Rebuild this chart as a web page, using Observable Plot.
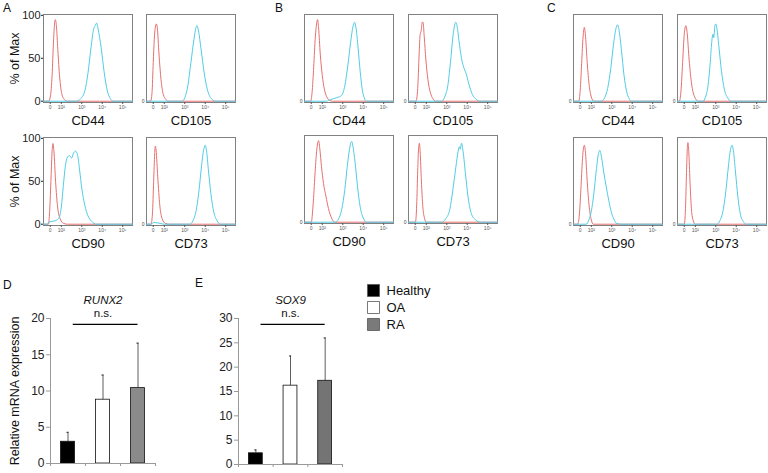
<!DOCTYPE html>
<html><head><meta charset="utf-8">
<script src="https://cdn.jsdelivr.net/npm/d3@7"></script>
<script src="https://cdn.jsdelivr.net/npm/@observablehq/plot@0.6"></script>
<style>
body{margin:0;background:#fff;}
#fig{position:relative;width:768px;height:473px;overflow:hidden;font-family:"Liberation Sans",Arial,sans-serif;color:#111;}
.letter{position:absolute;font-size:12px;line-height:12px;}
</style></head><body><div id="fig"></div>
<script>
// ---------- data ----------
const markers = ["CD44", "CD105", "CD90", "CD73"];
const donors = ["A", "B", "C"];
const xTickPos = [1.46, 2, 3, 4, 5];
const xTickLabels = ["0", "10²", "10³", "10⁴", "10⁵"];
const yTicksMax = [0, 50, 100];

// histogram curves: [position on logicle axis (decades), % of max]
const A_CD44_iso = [[1.13,0],[1.38,0],[1.47,6],[1.55,30],[1.62,70],[1.67,90],[1.71,95],[1.76,88],[1.83,60],[1.92,28],[2.02,9],[2.15,2],[2.27,0],[5.48,0]];
const A_CD44_ab  = [[1.13,0],[2.76,0],[2.95,3],[3.15,12],[3.3,32],[3.45,62],[3.58,84],[3.66,88],[3.73,91],[3.8,84],[3.95,62],[4.1,33],[4.25,12],[4.4,3],[4.55,0],[5.48,0]];
const A_CD105_iso = [[1.13,0],[1.33,0],[1.4,10],[1.46,45],[1.51,72],[1.56,86],[1.61,90],[1.66,85],[1.74,55],[1.84,25],[1.95,8],[2.08,2],[2.2,0],[5.48,0]];
const A_CD105_ab  = [[1.13,0],[2.87,0],[3.0,4],[3.15,18],[3.3,45],[3.45,72],[3.55,86],[3.6,88],[3.67,82],[3.8,60],[3.95,33],[4.1,14],[4.3,3],[4.53,0],[5.48,0]];
const A_CD90_iso = [[1.13,0],[1.37,0],[1.43,15],[1.5,55],[1.55,85],[1.59,94],[1.64,85],[1.72,50],[1.82,20],[1.95,6],[2.11,1],[2.3,0],[5.48,0]];
const A_CD90_ab  = [[1.13,0],[1.3,0],[1.45,3],[1.7,4],[1.9,8],[2.0,20],[2.1,45],[2.2,68],[2.3,78],[2.4,80],[2.5,77],[2.6,83],[2.7,85],[2.8,80],[2.9,62],[3.0,42],[3.15,22],[3.3,10],[3.5,3],[3.7,0],[5.48,0]];
const A_CD73_iso = [[1.13,0],[1.35,0],[1.42,12],[1.48,50],[1.53,82],[1.56,91],[1.6,86],[1.68,55],[1.78,22],[1.9,6],[2.05,1],[2.24,0],[5.48,0]];
const A_CD73_ab  = [[1.13,0],[1.35,0],[1.5,2],[1.8,1],[2.0,0],[3.24,0],[3.4,4],[3.55,15],[3.7,40],[3.82,68],[3.92,86],[4.0,92],[4.06,86],[4.16,62],[4.28,35],[4.42,14],[4.58,4],[4.74,0],[5.48,0]];

const B_CD44_iso = [[1.13,0],[1.43,0],[1.5,10],[1.58,40],[1.66,75],[1.72,90],[1.77,95],[1.82,85],[1.9,55],[2.0,30],[2.1,14],[2.22,5],[2.35,1],[2.5,0],[5.48,0]];
const B_CD44_ab  = [[1.13,0],[2.2,0],[2.4,2],[2.7,4],[2.95,7],[3.1,18],[3.25,42],[3.38,68],[3.5,87],[3.58,92],[3.65,85],[3.75,62],[3.85,35],[3.95,14],[4.05,4],[4.15,0],[5.48,0]];
const B_CD105_iso = [[1.13,0],[1.5,0],[1.58,15],[1.65,55],[1.7,78],[1.75,82],[1.8,92],[1.84,92],[1.9,75],[1.98,48],[2.08,25],[2.2,10],[2.32,3],[2.45,0],[5.48,0]];
const B_CD105_ab  = [[1.13,0],[2.75,0],[2.9,5],[3.05,18],[3.18,45],[3.3,75],[3.4,90],[3.44,92],[3.5,88],[3.6,70],[3.72,50],[3.85,38],[3.95,32],[4.08,20],[4.25,8],[4.45,2],[4.65,0],[5.48,0]];
const B_CD90_iso = [[1.13,0],[1.46,0],[1.55,20],[1.64,55],[1.72,82],[1.78,93],[1.82,95],[1.88,85],[1.96,65],[2.06,45],[2.18,30],[2.3,16],[2.45,5],[2.6,0],[5.48,0]];
const B_CD90_ab  = [[1.13,0],[2.64,0],[2.8,4],[2.95,15],[3.1,38],[3.22,65],[3.33,85],[3.4,93],[3.44,94],[3.5,88],[3.6,70],[3.72,42],[3.85,18],[4.0,5],[4.16,0],[5.48,0]];
const B_CD73_iso = [[1.13,0],[1.47,0],[1.53,20],[1.58,60],[1.62,85],[1.66,92],[1.7,82],[1.76,48],[1.83,18],[1.92,4],[2.0,0],[5.48,0]];
const B_CD73_ab  = [[1.13,0],[2.75,0],[2.95,4],[3.15,15],[3.3,38],[3.45,65],[3.55,82],[3.62,88],[3.66,85],[3.72,92],[3.8,82],[3.92,55],[4.05,28],[4.2,10],[4.4,3],[4.65,0],[5.48,0]];

const C_CD44_iso = [[1.13,0],[1.38,0],[1.45,10],[1.52,40],[1.59,72],[1.66,86],[1.72,75],[1.8,45],[1.9,18],[2.0,5],[2.12,0],[5.48,0]];
const C_CD44_ab  = [[1.13,0],[2.5,0],[2.65,4],[2.8,15],[2.95,38],[3.08,65],[3.2,84],[3.29,89],[3.36,82],[3.48,58],[3.6,30],[3.72,12],[3.85,3],[3.95,0],[5.48,0]];
const C_CD105_iso = [[1.13,0],[1.22,0],[1.3,12],[1.38,45],[1.46,78],[1.54,88],[1.6,80],[1.7,48],[1.82,20],[1.95,6],[2.15,0],[5.48,0]];
const C_CD105_ab  = [[1.13,0],[2.38,0],[2.5,5],[2.62,18],[2.72,42],[2.8,68],[2.86,78],[2.9,74],[2.96,88],[3.0,90],[3.06,84],[3.16,62],[3.28,35],[3.42,14],[3.58,4],[3.75,0],[5.48,0]];
const C_CD90_iso = [[1.13,0],[1.33,0],[1.42,12],[1.5,45],[1.58,80],[1.66,92],[1.72,82],[1.8,50],[1.9,20],[2.0,5],[2.1,0],[5.48,0]];
const C_CD90_ab  = [[1.13,0],[1.75,0],[1.88,5],[2.0,15],[2.12,35],[2.24,62],[2.35,82],[2.42,86],[2.5,78],[2.6,62],[2.72,45],[2.85,28],[2.98,14],[3.1,6],[3.24,1],[3.5,0],[5.48,0]];
const C_CD73_iso = [[1.13,0],[1.46,0],[1.52,18],[1.57,60],[1.61,88],[1.64,95],[1.68,85],[1.74,50],[1.81,18],[1.9,4],[2.0,0],[5.48,0]];
const C_CD73_ab  = [[1.13,0],[3.05,0],[3.2,4],[3.35,15],[3.5,40],[3.62,68],[3.72,87],[3.8,92],[3.86,86],[3.96,62],[4.08,32],[4.2,12],[4.35,3],[4.5,0],[5.48,0]];

// qPCR bar charts
const groups = ["Healthy", "OA", "RA"];
const runx2Mean = [3.0, 8.8, 10.4];
const runx2Err = [1.3, 3.4, 6.2];
const sox9Mean = [2.3, 16.2, 17.2];
const sox9Err = [0.7, 6.1, 8.8];
const runx2Ticks = [0, 5, 10, 15, 20];
const sox9Ticks = [0, 5, 10, 15, 20, 25, 30];
const runx2SigY = 19.2;
const sox9SigY = 28.8;

// ---------- drawing ----------
const FONT = '"Liberation Sans", Arial, sans-serif';
const RED = "#e6706f";
const CYAN = "#4fcde6";
const fig = document.getElementById("fig");

const curves = {
  A: [[A_CD44_iso, A_CD44_ab], [A_CD105_iso, A_CD105_ab], [A_CD90_iso, A_CD90_ab], [A_CD73_iso, A_CD73_ab]],
  B: [[B_CD44_iso, B_CD44_ab], [B_CD105_iso, B_CD105_ab], [B_CD90_iso, B_CD90_ab], [B_CD73_iso, B_CD73_ab]],
  C: [[C_CD44_iso, C_CD44_ab], [C_CD105_iso, C_CD105_ab], [C_CD90_iso, C_CD90_ab], [C_CD73_iso, C_CD73_ab]]
};
const layout = {
  A: {cols: [43, 146], rows: [14, 137], letter: [3, 2]},
  B: {cols: [304, 408], rows: [14, 135], letter: [275, 2]},
  C: {cols: [573, 677], rows: [14, 137], letter: [547, 2]}
};

function place(el, left, top) {
  el.style.position = "absolute";
  el.style.left = left + "px";
  el.style.top = top + "px";
  fig.appendChild(el);
}
function letter(t, x, y) {
  const d = document.createElement("div");
  d.className = "letter"; d.textContent = t;
  d.style.left = x + "px"; d.style.top = y + "px";
  fig.appendChild(d);
}

function histogram(iso, ab, marker, bigY) {
  const fw = 89, fh = 88;
  const mL = bigY ? 40 : 8, mR = 1, mT = 1, mB = 32;
  const marks = [
    Plot.frame({stroke: "#808080", strokeWidth: 1}),
    Plot.line(iso, {x: d => d[0], y: d => d[1], stroke: RED, strokeWidth: 1, curve: "monotone-x"}),
    Plot.line(ab, {x: d => d[0], y: d => d[1], stroke: CYAN, strokeWidth: 1, curve: "monotone-x"}),
    Plot.axisX({ticks: xTickPos, tickFormat: d => xTickLabels[xTickPos.indexOf(d)], tickSize: 2, tickPadding: 1, fontSize: 5, color: "#555", label: null}),
    Plot.text([marker], {frameAnchor: "bottom", dy: 22, fontSize: 13, fill: "#111"})
  ];
  if (bigY) {
    marks.push(Plot.axisY({ticks: yTicksMax, tickSize: 2, tickPadding: 1, fontSize: 11, color: "#222", label: null}));
    marks.push(Plot.text(["% of Max"], {frameAnchor: "left", textAnchor: "middle", rotate: -90, dx: -29, fontSize: 12.5, fill: "#111"}));
  } else {
    marks.push(Plot.axisY({ticks: [0], tickSize: 0, tickPadding: 2, fontSize: 5, color: "#444", label: null}));
  }
  const svg = Plot.plot({
    width: fw + mL + mR, height: fh + mT + mB,
    marginLeft: mL, marginRight: mR, marginTop: mT, marginBottom: mB,
    x: {domain: [1.13, 5.48]},
    y: {domain: [-1.5, 101]},
    style: {fontFamily: FONT, background: "transparent", overflow: "visible"},
    marks
  });
  return {svg, mL, mT};
}

donors.forEach(dn => {
  const L = layout[dn];
  letter(dn, L.letter[0], L.letter[1]);
  markers.forEach((m, k) => {
    const col = k % 2, row = Math.floor(k / 2);
    const [iso, ab] = curves[dn][k];
    const {svg, mL, mT} = histogram(iso, ab, m, dn === "A" && col === 0);
    place(svg, L.cols[col] - mL, L.rows[row] - mT);
  });
});

function barChart({title, means, errs, ticks, yMax, sigY, frameW, frameH, mL, ylabel, gray}) {
  const rows = groups.map((g, i) => ({g, i, mean: means[i], top: means[i] + errs[i],
    fill: i === 0 ? "#000" : i === 1 ? "#fff" : gray}));
  const mT = 38, mB = 8, mR = 8;
  const marks = [
    Plot.rectY(rows, {x1: d => d.i - 0.2, x2: d => d.i + 0.2, y1: 0, y2: "mean", fill: "fill", stroke: "#111", strokeWidth: 0.8}),
    Plot.ruleX(rows, {x: "i", y1: "mean", y2: "top", stroke: "#333", strokeWidth: 0.8}),
    Plot.ruleY(rows, {y: "top", x1: d => d.i - 0.03, x2: d => d.i + 0.03, stroke: "#333", strokeWidth: 1}),
    Plot.ruleY([0], {stroke: "#9a9a9a", strokeWidth: 1}),
    Plot.ruleX([-0.5], {stroke: "#9a9a9a", strokeWidth: 1}),
    Plot.axisX({ticks: [-0.5, 0.5, 1.5, 2.5], tickFormat: () => "", tickSize: 3, color: "#9a9a9a", label: null}),
    Plot.axisY({ticks, tickSize: 4, tickPadding: 2, fontSize: 12, color: "#9a9a9a", fill: "#222", label: null}),
    Plot.ruleY([{y: sigY, x1: 0.15, x2: 2.0}], {y: "y", x1: "x1", x2: "x2", stroke: "#000", strokeWidth: 1.3}),
    Plot.text([title], {frameAnchor: "top", dy: -23, fontSize: 11.5, fontStyle: "italic", fill: "#111"}),
    Plot.text(["n.s."], {frameAnchor: "top", dy: -10, fontSize: 11.5, fill: "#111"})
  ];
  if (ylabel) marks.push(Plot.text([ylabel], {frameAnchor: "left", textAnchor: "middle", rotate: -90, dx: -36, fontSize: 12.5, fill: "#111"}));
  const svg = Plot.plot({
    width: frameW + mL + mR, height: frameH + mT + mB,
    marginLeft: mL, marginRight: mR, marginTop: mT, marginBottom: mB,
    x: {domain: [-0.5, 2.5]},
    y: {domain: [0, yMax]},
    color: {type: "identity"},
    style: {fontFamily: FONT, background: "transparent", overflow: "visible"},
    marks
  });
  return {svg, mL, mT};
}

letter("D", 3, 279);
{
  const {svg, mL, mT} = barChart({title: "RUNX2", means: runx2Mean, errs: runx2Err, ticks: runx2Ticks, yMax: 20,
    sigY: runx2SigY, frameW: 105, frameH: 145, mL: 50, ylabel: "Relative mRNA expression", gray: "#8a8a8a"});
  place(svg, 50 - mL, 318 - mT);
}
letter("E", 195, 277);
{
  const {svg, mL, mT} = barChart({title: "SOX9", means: sox9Mean, errs: sox9Err, ticks: sox9Ticks, yMax: 30,
    sigY: sox9SigY, frameW: 104, frameH: 146, mL: 48, ylabel: null, gray: "#747474"});
  place(svg, 238 - mL, 318 - mT);
}

// legend
{
  const legendFill = ["#000", "#fff", "#7a7a7a"];
  const svg = Plot.plot({
    width: 100, height: 56, margin: 0,
    x: {domain: [0, 100], range: [0, 100], axis: null},
    y: {type: "point", domain: groups, range: [11, 46], padding: 0, axis: null},
    color: {type: "identity"},
    style: {fontFamily: FONT, background: "transparent", overflow: "visible"},
    marks: [
      Plot.dot(groups, {x: () => 13, y: d => d, symbol: "square", r: 6.8, fill: (d, i) => legendFill[i], stroke: "#555", strokeWidth: 0.8}),
      Plot.text(groups, {x: () => 26, y: d => d, textAnchor: "start", fontSize: 13, fill: "#111"})
    ]
  });
  place(svg, 360, 278);
}
</script></body></html>
